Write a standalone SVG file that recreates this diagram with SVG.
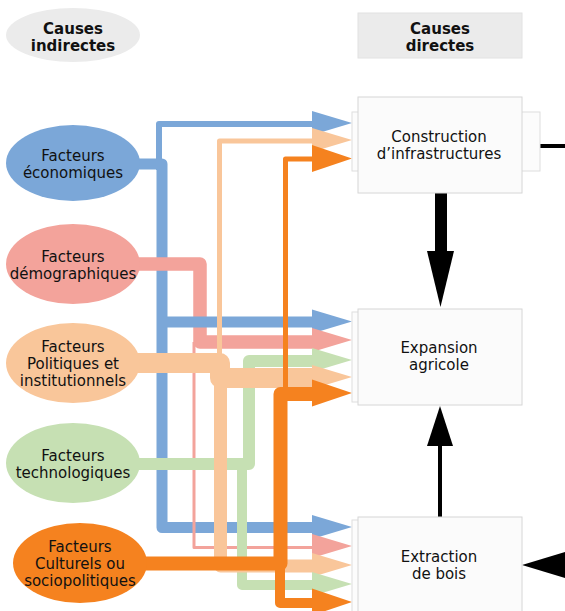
<svg xmlns="http://www.w3.org/2000/svg" xmlns:xlink="http://www.w3.org/1999/xlink" width="565" height="611" viewBox="0 0 565 611">
<style>
  .lbl{font-family:"DejaVu Sans","Liberation Sans",sans-serif;font-size:15px;fill:#111;text-anchor:middle}
  .hdr{font-family:"DejaVu Sans","Liberation Sans",sans-serif;font-size:15px;font-weight:bold;fill:#111;text-anchor:middle}
  .c{fill:none;stroke-linejoin:round}
  .blue{stroke:#7ba7d8}.pink{stroke:#f3a39b}.peach{stroke:#f9c69a}.green{stroke:#c6e0b3}.orange{stroke:#f5821f}
  .fblue{fill:#7ba7d8}.fpink{fill:#f3a39b}.fpeach{fill:#f9c69a}.fgreen{fill:#c6e0b3}.forange{fill:#f5821f}
  .box{fill:#fbfbfb;stroke:#d6d6d6;stroke-width:1}
  .tab{fill:#fcfcfc;stroke:#dedede;stroke-width:1}
  .blk{fill:#000}
</style>
<defs>
  <path id="ah" d="M0,-12 L40,0 L0,12 Z"/>
  <path id="ahb" d="M0,-13.5 L40,0 L0,13.5 Z"/>
</defs>

<g id="headers">
  <g id="hdr-indirect">
    <ellipse cx="73" cy="35" rx="67" ry="27" fill="#ebebeb"/>
    <text class="hdr" x="73" y="34">Causes</text>
    <text class="hdr" x="73" y="51">indirectes</text>
  </g>
  <g id="hdr-direct">
    <rect x="358" y="13" width="164" height="45" fill="#ebebeb" stroke="#e2e2e2"/>
    <text class="hdr" x="440" y="34">Causes</text>
    <text class="hdr" x="440" y="51">directes</text>
  </g>
</g>

<g id="connectors">
  <path class="c blue" stroke-width="11" d="M130 164 H162 V527.5 H312"/>
  <path class="c blue" stroke-width="6" d="M159 170 V124 H312"/>
  <path class="c pink" stroke-width="13.5" d="M130 264 H200 V342 H312"/>
  <path class="c blue" stroke-width="11" d="M162 322 H312"/>
  <path class="c pink" stroke-width="3" d="M194 342 V547.5 H312"/>
  <path class="c green" stroke-width="12" d="M130 464 H249 V361 H312"/>
  <path class="c green" stroke-width="10" d="M242 464 V585 H312"/>
  <path class="c peach" stroke-width="20" d="M130 363 H220 V378 H312"/>
  <path class="c peach" stroke-width="13" d="M220.5 378 V566 H312"/>
  <path class="c peach" stroke-width="5" d="M219.5 363 V141 H312"/>
  <path class="c orange" stroke-width="14" d="M130 563.5 H280.5 V394 H312"/>
  <path class="c orange" stroke-width="10" d="M280 563 V603 H312"/>
  <path class="c orange" stroke-width="5" d="M285.5 394 V159 H312"/>

  <use xlink:href="#ah" x="312" y="123" class="fblue"/>
  <use xlink:href="#ah" x="312" y="140" class="fpeach"/>
  <use xlink:href="#ahb" x="312" y="158.5" class="forange"/>

  <use xlink:href="#ah" x="312" y="321.5" class="fblue"/>
  <use xlink:href="#ah" x="312" y="340" class="fpink"/>
  <use xlink:href="#ah" x="312" y="360" class="fgreen"/>
  <use xlink:href="#ah" x="312" y="377" class="fpeach"/>
  <use xlink:href="#ahb" x="312" y="393" class="forange"/>

  <use xlink:href="#ah" x="312" y="527" class="fblue"/>
  <use xlink:href="#ah" x="312" y="546" class="fpink"/>
  <use xlink:href="#ah" x="312" y="565" class="fpeach"/>
  <use xlink:href="#ah" x="312" y="584" class="fgreen"/>
  <use xlink:href="#ahb" x="312" y="602" class="forange"/>

  <path d="M522 146 H565" stroke="#000" stroke-width="4"/>
  <rect class="blk" x="435" y="193" width="12" height="59"/>
  <polygon class="blk" points="427,251 454,251 440.5,307"/>
  <path d="M440 517 V444" stroke="#000" stroke-width="4"/>
  <polygon class="blk" points="427,446 453,446 440,406"/>
  <polygon class="blk" points="522,565 565,552 565,578"/>
</g>

<g id="n-eco">
  <ellipse cx="73" cy="163" rx="67" ry="38" fill="#7ba7d8"/>
  <text class="lbl" x="73" y="161">Facteurs</text>
  <text class="lbl" x="73" y="178">économiques</text>
</g>
<g id="n-demo">
  <ellipse cx="73" cy="264" rx="67" ry="40" fill="#f3a39b"/>
  <text class="lbl" x="73" y="262">Facteurs</text>
  <text class="lbl" x="73" y="279">démographiques</text>
</g>
<g id="n-poli">
  <ellipse cx="73" cy="363" rx="67" ry="40" fill="#f9c69a"/>
  <text class="lbl" x="73" y="352">Facteurs</text>
  <text class="lbl" x="73" y="369">Politiques et</text>
  <text class="lbl" x="73" y="386">institutionnels</text>
</g>
<g id="n-tech">
  <ellipse cx="73" cy="463" rx="67" ry="40" fill="#c6e0b3"/>
  <text class="lbl" x="73" y="461">Facteurs</text>
  <text class="lbl" x="73" y="478">technologiques</text>
</g>
<g id="n-cult">
  <ellipse cx="80" cy="563" rx="67" ry="40" fill="#f5821f"/>
  <text class="lbl" x="80" y="552">Facteurs</text>
  <text class="lbl" x="80" y="569">Culturels ou</text>
  <text class="lbl" x="80" y="586">sociopolitiques</text>
</g>

<g id="n-construction">
  <rect class="tab" x="352" y="112" width="188" height="59"/>
  <rect class="box" x="358" y="97" width="164" height="96"/>
  <text class="lbl" x="439" y="142">Construction</text>
  <text class="lbl" x="439" y="159">d’infrastructures</text>
</g>
<g id="n-expansion">
  <rect class="tab" x="352" y="312" width="20" height="90"/>
  <rect class="box" x="358" y="309" width="164" height="96"/>
  <text class="lbl" x="439" y="353">Expansion</text>
  <text class="lbl" x="439" y="370">agricole</text>
</g>
<g id="n-extraction">
  <rect class="tab" x="352" y="520" width="20" height="95"/>
  <rect class="box" x="358" y="517" width="164" height="100"/>
  <text class="lbl" x="439" y="562">Extraction</text>
  <text class="lbl" x="439" y="579">de bois</text>
</g>
</svg>
